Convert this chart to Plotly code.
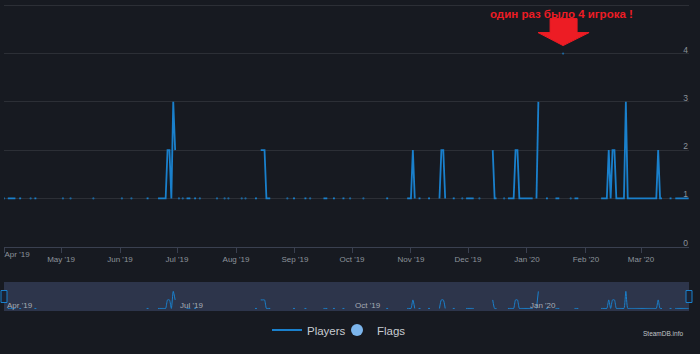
import plotly.graph_objects as go
import pandas as pd
import numpy as np

# Daily peak players: each run starts on a date and lists consecutive daily values
run_starts = [
    "2019-04-01", "2019-04-03", "2019-04-09", "2019-04-15", "2019-04-17",
    "2019-05-02", "2019-05-06", "2019-05-18", "2019-06-02", "2019-06-07",
    "2019-06-15", "2019-06-21", "2019-07-02", "2019-07-04", "2019-07-06",
    "2019-07-10", "2019-07-13", "2019-07-22", "2019-07-26", "2019-07-28",
    "2019-08-04", "2019-08-06", "2019-08-11", "2019-08-14", "2019-08-28",
    "2019-08-31", "2019-09-06", "2019-09-09", "2019-09-16", "2019-09-21",
    "2019-09-26", "2019-09-30", "2019-10-07", "2019-10-19", "2019-10-30",
    "2019-11-05", "2019-11-10", "2019-11-16", "2019-11-23", "2019-11-28",
    "2019-11-30", "2019-12-07", "2019-12-14", "2019-12-20", "2019-12-22",
    "2020-01-06", "2020-01-11", "2020-01-16", "2020-01-20", "2020-01-24",
    "2020-01-26", "2020-02-09", "2020-03-16", "2020-03-19",
]
run_values = [
    [1], [1, 1, 1, 1, 1], [1, 1], [1], [1, 1],
    [1], [1], [1], [1], [1],
    [1, 1], [1, 1, 1, 1, 1, 2, 2, 1, 3, 2], [1], [1], [1, 1, 1],
    [1, 1], [1], [1], [1], [1],
    [1], [1], [1, 1], [2, 2, 2, 1, 1, 1], [1],
    [1, 1], [1, 1], [1], [1, 1, 1], [1, 1],
    [1, 1], [1], [1], [1, 1], [1, 1, 1, 2, 1],
    [1, 1], [1, 1], [1, 2, 2, 1], [1, 1], [1],
    [1, 1, 1, 1, 1], [1], [2, 1, 1], [1], [1, 1, 1, 1, 2, 2, 1, 1, 1, 1, 1, 1, 1, 1],
    [1, 3], [1, 1], [1, 1, 1], [4], [1],
    [1, 1, 1],
    [1, 1, 1, 1, 2, 1, 2, 2, 1, 1, 1, 1, 1, 3, 1, 1, 1, 1, 1, 1, 1, 1, 1, 1, 1, 1, 1, 1, 1, 1, 2, 1, 1],
    [1, 1], [1, 1, 1, 1, 1, 1, 1, 1],
]

x_start = "2019-04-01"
x_end = "2020-03-26 05:00"

main_tick_dates = ["2019-04-01", "2019-05-01", "2019-06-01", "2019-07-01", "2019-08-01",
                   "2019-09-01", "2019-10-01", "2019-11-01", "2019-12-01", "2020-01-01",
                   "2020-02-01", "2020-03-01"]
main_tick_labels = ["", "May '19", "Jun '19", "Jul '19", "Aug '19",
                    "Sep '19", "Oct '19", "Nov '19", "Dec '19", "Jan '20", "Feb '20", "Mar '20"]
first_tick_date = ["2019-04-01"]
first_tick_label = ["Apr '19"]
nav_tick_dates = ["2019-04-01", "2019-07-01", "2019-10-01", "2020-01-01"]
nav_tick_labels = ["Apr '19", "Jul '19", "Oct '19", "Jan '20"]
y_tick_vals = [0, 1, 2, 3, 4, 5]
y_tick_labels = ["0", "1", "2", "3", "4", ""]

annotation_text = "один раз было 4 игрока !"
annotation_date = "2020-01-20"
annotation_value = 4

# build the daily series with gaps
days = pd.date_range("2019-04-01", "2020-03-26", freq="D")
series = pd.Series(np.nan, index=days)
for s, vals in zip(run_starts, run_values):
    idx = pd.date_range(s, periods=len(vals), freq="D")
    series.loc[idx] = vals
vals = series.values
present = ~np.isnan(vals)
prev_p = np.concatenate([[False], present[:-1]])
next_p = np.concatenate([present[1:], [False]])
isolated = present & ~prev_p & ~next_p
y_list = [None if np.isnan(v) else float(v) for v in vals]
msize = [2.2 if iso else 0 for iso in isolated]

BG = "#171a21"
BLUE = "#1a80cc"
GRID = "#2c2f36"
TXT = "#8c939b"

fig = go.Figure()
fig.add_trace(go.Scatter(
    x=days, y=y_list, mode="lines+markers", name="Players",
    line=dict(color=BLUE, width=1.8), marker=dict(size=msize, color=BLUE, line=dict(width=0)),
    connectgaps=False, xaxis="x", yaxis="y", hoverinfo="skip",
))
fig.add_trace(go.Scatter(
    x=[None], y=[None], mode="markers", name="Flags",
    marker=dict(size=12, color="#7cb5ec"), xaxis="x3", yaxis="y",
))
fig.add_trace(go.Scatter(
    x=days, y=y_list, mode="lines", showlegend=False,
    line=dict(color=BLUE, width=1, shape="spline", smoothing=0.6),
    connectgaps=False, xaxis="x2", yaxis="y2", hoverinfo="skip",
))

top_px, bot_px = 0, 43
H = 354 - top_px - bot_px

def frac(py):
    return (354 - bot_px - py) / H

fig.update_layout(
    width=700, height=354,
    margin=dict(l=4, r=11, t=top_px, b=bot_px, autoexpand=False),
    paper_bgcolor=BG, plot_bgcolor=BG,
    font=dict(family="Liberation Sans, Arial, sans-serif", color=TXT),
    hovermode=False,
    xaxis=dict(
        domain=[0, 1], anchor="y", range=[x_start, x_end], type="date",
        tickmode="array", tickvals=main_tick_dates, ticktext=main_tick_labels,
        tickfont=dict(size=8, color=TXT), ticks="outside", ticklen=5,
        tickcolor="#3a4050", showline=True, linecolor="#3a4050", linewidth=1,
        showgrid=False, zeroline=False, ticklabeloverflow="allow", automargin=False,
    ),
    xaxis3=dict(
        domain=[0, 1], anchor="y", overlaying="x", side="bottom",
        range=[x_start, x_end], type="date",
        tickmode="array", tickvals=first_tick_date, ticktext=first_tick_label,
        ticklabelposition="outside right", tickfont=dict(size=8, color=TXT),
        ticks="outside", ticklen=5, tickcolor="rgba(0,0,0,0)",
        showline=False, showgrid=False, zeroline=False,
        ticklabeloverflow="allow", automargin=False,
    ),
    yaxis=dict(
        domain=[frac(246.7), frac(0.47)], anchor="x", range=[0, 5.1], side="right",
        tickmode="array", tickvals=y_tick_vals, ticktext=y_tick_labels,
        ticklabelposition="inside", ticklabelshift=-4, ticklabelstandoff=-2,
        ticklabeloverflow="allow", automargin=False,
        tickfont=dict(size=8.5, color=TXT), showgrid=True, gridcolor=GRID,
        gridwidth=1, zeroline=False, showline=False, ticks="",
    ),
    xaxis2=dict(
        domain=[0, 1], anchor="y2", range=[x_start, x_end], type="date",
        tickmode="array", tickvals=nav_tick_dates, ticktext=nav_tick_labels,
        ticklabelposition="inside right", tickfont=dict(size=8, color="#a6acb5"),
        ticklabelshift=3, ticklabelstandoff=-5, ticklabeloverflow="allow", automargin=False,
        ticks="", showgrid=False, showline=False, zeroline=False,
    ),
    yaxis2=dict(
        domain=[0, frac(282)], anchor="x2", range=[0.7, 4.1], automargin=False,
        showticklabels=False, showgrid=False, zeroline=False, showline=False, ticks="",
    ),
    legend=dict(
        orientation="h", x=(267 - 4) / 685, xanchor="left", y=frac(330), yanchor="middle",
        font=dict(size=11.5, color="#c7ccd1"), bgcolor="rgba(0,0,0,0)", itemwidth=30,
        entrywidth=25, borderwidth=0,
    ),
    shapes=[
        dict(type="rect", xref="x2 domain", yref="y2 domain", x0=0, x1=1, y0=0, y1=1,
             fillcolor="#2d354b", line=dict(width=0), layer="below"),
        dict(type="rect", xref="x2 domain", yref="y2 domain", xsizemode="pixel",
             ysizemode="pixel", xanchor=0, yanchor=0.5, x0=-3, x1=3, y0=-6, y1=6,
             fillcolor="#1b2232", line=dict(color=BLUE, width=1)),
        dict(type="rect", xref="x2 domain", yref="y2 domain", xsizemode="pixel",
             ysizemode="pixel", xanchor=1, yanchor=0.5, x0=-3, x1=3, y0=-6, y1=6,
             fillcolor="#1b2232", line=dict(color=BLUE, width=1)),
        dict(type="path", xref="x", yref="y", xsizemode="pixel", ysizemode="pixel",
             xanchor=annotation_date, yanchor=annotation_value,
             path="M 0,8 L -25,21 L -13,21 L -13,35 L 14,35 L 14,21 L 26,21 Z",
             fillcolor="#ed1c24", line=dict(color="#ed1c24", width=1)),
    ],
    annotations=[
        dict(x=annotation_date, y=annotation_value, xref="x", yref="y",
             text="<b>" + annotation_text + "</b>", showarrow=False,
             xshift=-2, yshift=40, font=dict(size=11.5, color="#ed1c24",
                                             family="Liberation Sans, Arial, sans-serif")),
        dict(x=(685 - 4) / 685, y=frac(333), xref="paper", yref="paper",
             text="SteamDB.info", showarrow=False, xanchor="right", yanchor="middle",
             font=dict(size=6.5, color="#c0c4c8")),
    ],
)

fig.write_html("out.html")
